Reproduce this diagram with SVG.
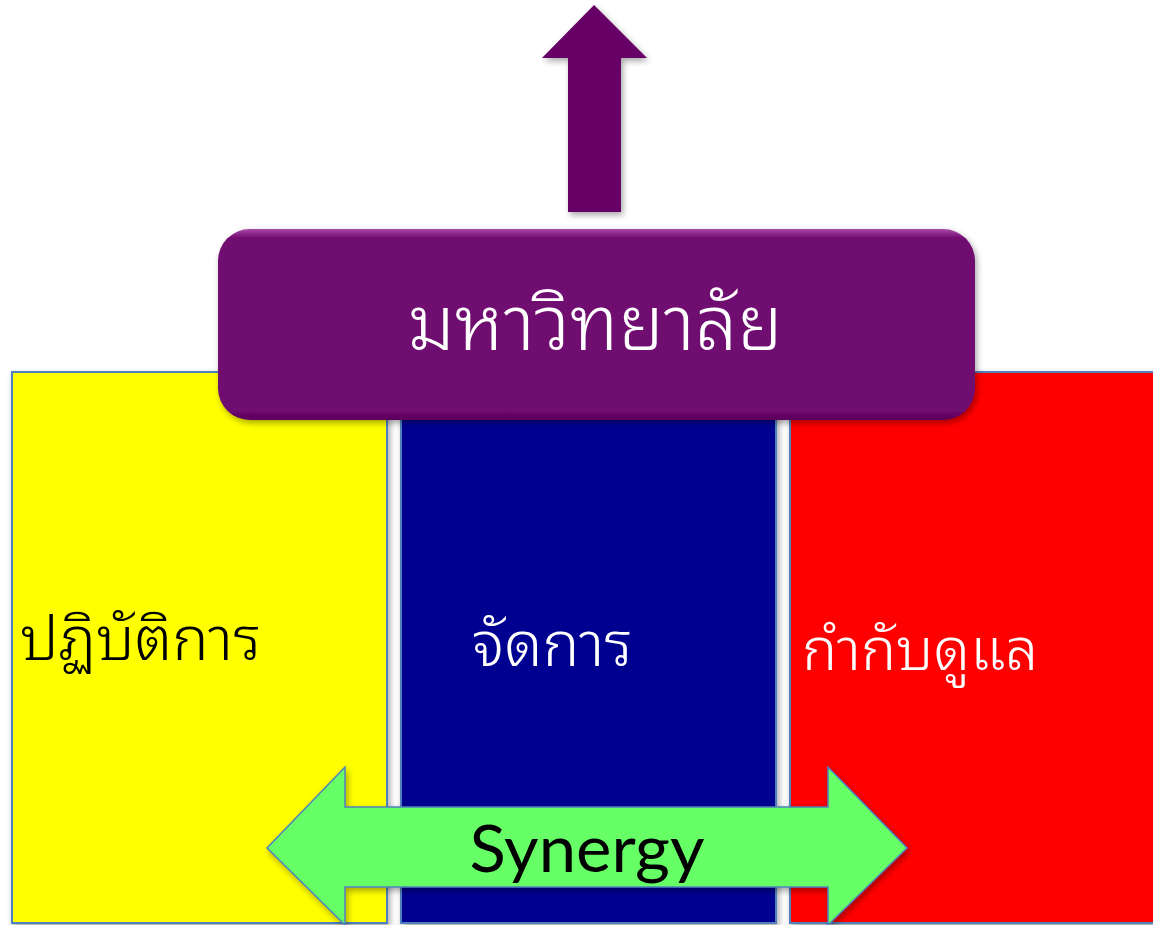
<svg xmlns="http://www.w3.org/2000/svg" width="1153" height="925" viewBox="0 0 1153 925">
<defs>
<filter id="sh" x="-10%" y="-10%" width="130%" height="130%">
<feDropShadow dx="2" dy="3" stdDeviation="3" flood-color="#000" flood-opacity="0.35"/>
</filter>
<linearGradient id="topGlow" x1="0" y1="0" x2="0" y2="1">
<stop offset="0" stop-color="#a848a8"/>
<stop offset="0.05" stop-color="#6f076f"/>
<stop offset="0.95" stop-color="#6f076f"/>
<stop offset="1" stop-color="#5a055a"/>
</linearGradient>
<style>
.col{stroke:#4f81bd;stroke-width:2}
.th{font-family:"Noto Sans Thai Looped","Noto Serif Thai","Leelawadee UI","Noto Sans Thai","Tahoma",sans-serif;font-weight:300}
</style>
</defs>
<rect width="1153" height="925" fill="#ffffff"/>
<g id="col-operate">
<rect class="col" x="12" y="372" width="375" height="551" fill="#ffff00" filter="url(#sh)"/>
<text class="th" x="20" y="660" font-size="61" fill="#000">ปฏิบัติการ</text>
</g>
<g id="col-manage">
<rect class="col" x="401" y="372" width="375" height="551" fill="#000090" filter="url(#sh)"/>
<text class="th" x="472" y="666" font-size="62" fill="#ffffff">จัดการ</text>
</g>
<g id="col-regulate">
<rect class="col" x="790" y="372" width="375" height="551" fill="#ff0000" filter="url(#sh)"/>
<text class="th" x="802" y="670" font-size="59" fill="#ffffff">กำกับดูแล</text>
</g>
<g id="connectors">
<polygon id="arrow-up" points="594,5 647,58 621,58 621,212 568,212 568,58 542,58" fill="#660066" filter="url(#sh)"/>
</g>
<g id="university">
<rect x="218" y="229" width="757" height="191" rx="32" ry="32" fill="url(#topGlow)" filter="url(#sh)"/>
<text class="th" x="595" y="350" font-size="76" fill="#ffffff" text-anchor="middle">มหาวิทยาลัย</text>
</g>
<g id="synergy">
<polygon points="267,848 345,767 345,807 828,807 828,767 907,848 828,925 828,887 345,887 345,925" fill="#66ff66" stroke="#4f81bd" stroke-width="1.5" filter="url(#sh)"/>
<text x="587" y="872" font-family="Lato,'Open Sans',sans-serif" font-size="66" fill="#000" text-anchor="middle" textLength="235" lengthAdjust="spacingAndGlyphs">Synergy</text>
</g>
</svg>
